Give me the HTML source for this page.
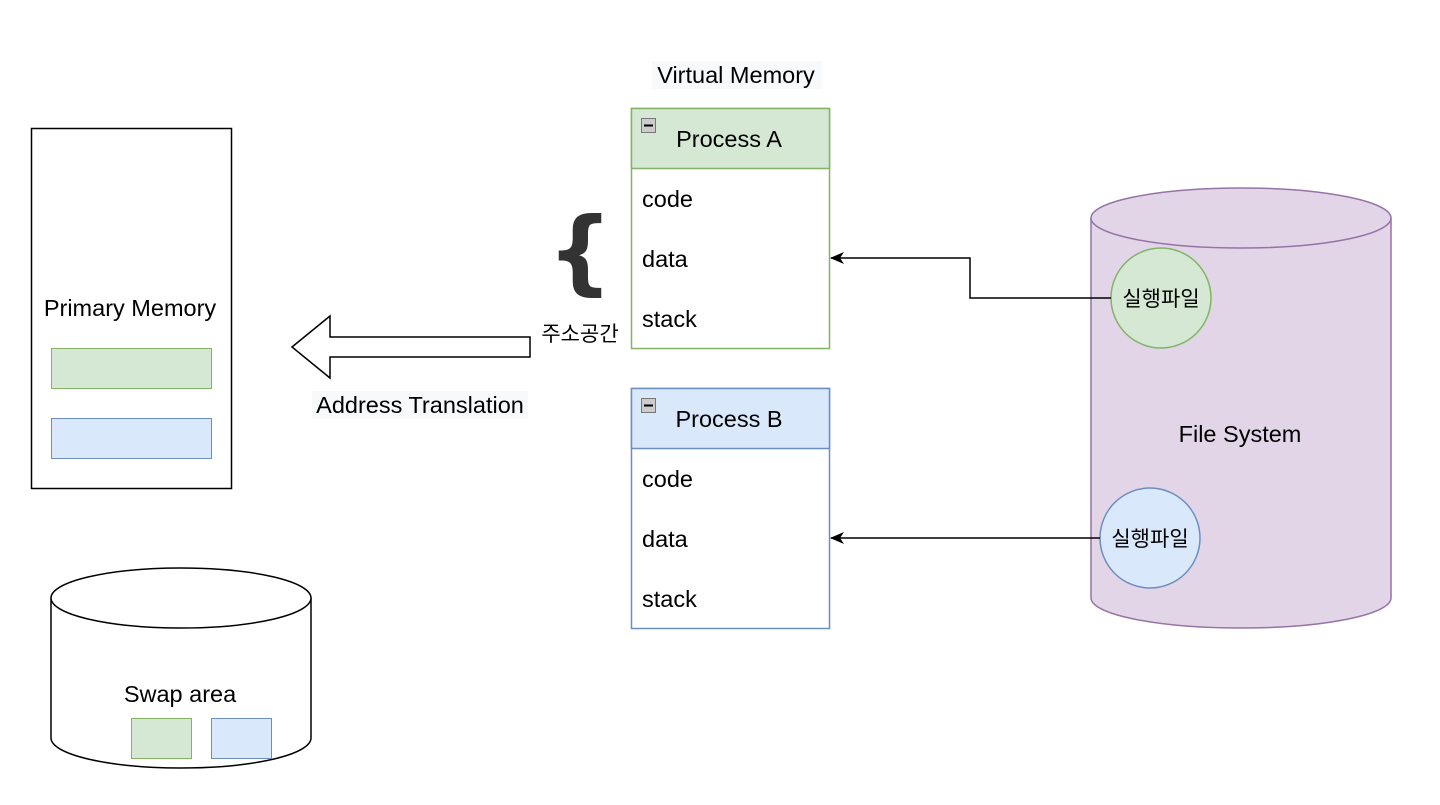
<!DOCTYPE html>
<html><head><meta charset="utf-8"><style>
html,body{margin:0;padding:0;background:#fff;}
svg text{font-family:"Liberation Sans","Noto Sans CJK KR",sans-serif;font-size:23.5px;fill:#000;}
</style></head><body>
<svg width="1440" height="800" viewBox="0 0 1440 800" xmlns="http://www.w3.org/2000/svg">
<defs><marker id="ah" markerWidth="14" markerHeight="12" refX="13" refY="6" orient="auto" markerUnits="userSpaceOnUse"><path d="M0,0 L14,6 L0,12 L4,6 Z" fill="#000"/></marker></defs>
<!-- Primary memory -->
<rect x="31.5" y="128.5" width="200" height="360" fill="#fff" stroke="#000" stroke-width="1.5"/>
<text x="130" y="316" text-anchor="middle">Primary Memory</text>
<rect x="51.5" y="348.5" width="160" height="40" fill="#d5e8d4" stroke="#82b366"/>
<rect x="51.5" y="418.5" width="160" height="40" fill="#dae8fc" stroke="#6c8ebf"/>
<!-- Swap -->
<path d="M51,598 L51,738 A130,30 0 0 0 311,738 L311,598" fill="#fff" stroke="#000" stroke-width="1.5"/>
<ellipse cx="181" cy="598" rx="130" ry="30" fill="#fff" stroke="#000" stroke-width="1.5"/>
<text x="180" y="702" text-anchor="middle">Swap area</text>
<rect x="131.5" y="718.5" width="60" height="40" fill="#d5e8d4" stroke="#82b366"/>
<rect x="211.5" y="718.5" width="60" height="40" fill="#dae8fc" stroke="#6c8ebf"/>
<!-- Big arrow -->
<path d="M292,347 L330,316 L330,337 L530,337 L530,357 L330,357 L330,378 Z" fill="#fff" stroke="#000" stroke-width="1.5"/>
<rect x="312" y="391" width="216" height="28" fill="#f8f9fa"/>
<text x="420" y="413" text-anchor="middle">Address Translation</text>
<!-- brace -->
<text x="580" y="283" text-anchor="middle" style="font-size:92px;fill:#333;font-weight:bold;font-family:'DejaVu Sans',sans-serif;">{</text>
<text x="580" y="341" text-anchor="middle" style="font-size:21px">주소공간</text>
<!-- Virtual memory label -->
<rect x="652" y="61" width="170" height="28" fill="#f8f9fa"/>
<text x="736" y="83" text-anchor="middle">Virtual Memory</text>
<!-- Process A -->
<rect x="631.5" y="108.5" width="198" height="240" fill="#fff" stroke="#82b366" stroke-width="1.5"/>
<rect x="631.5" y="108.5" width="198" height="60" fill="#d5e8d4" stroke="#82b366" stroke-width="1.5"/>
<rect x="641.5" y="118.5" width="14" height="14" fill="#ccc" stroke="#777"/>
<line x1="644" y1="125.5" x2="653" y2="125.5" stroke="#000" stroke-width="2"/>
<text x="729" y="147" text-anchor="middle">Process A</text>
<text x="642" y="207">code</text>
<text x="642" y="267">data</text>
<text x="642" y="327">stack</text>
<!-- Process B -->
<rect x="631.5" y="388.5" width="198" height="240" fill="#fff" stroke="#6c8ebf" stroke-width="1.5"/>
<rect x="631.5" y="388.5" width="198" height="60" fill="#dae8fc" stroke="#6c8ebf" stroke-width="1.5"/>
<rect x="641.5" y="398.5" width="14" height="14" fill="#ccc" stroke="#777"/>
<line x1="644" y1="405.5" x2="653" y2="405.5" stroke="#000" stroke-width="2"/>
<text x="729" y="427" text-anchor="middle">Process B</text>
<text x="642" y="487">code</text>
<text x="642" y="547">data</text>
<text x="642" y="607">stack</text>
<!-- File system -->
<path d="M1091,218 L1091,598 A150,30 0 0 0 1391,598 L1391,218" fill="#e1d5e7" stroke="#9673a6" stroke-width="1.5"/>
<ellipse cx="1241" cy="218" rx="150" ry="30" fill="#e1d5e7" stroke="#9673a6" stroke-width="1.5"/>
<text x="1240" y="442" text-anchor="middle">File System</text>
<circle cx="1161" cy="298" r="50" fill="#d5e8d4" stroke="#82b366" stroke-width="1.5"/>
<text x="1161" y="306" text-anchor="middle" style="font-size:21px">실행파일</text>
<circle cx="1150" cy="538" r="50" fill="#dae8fc" stroke="#6c8ebf" stroke-width="1.5"/>
<text x="1150" y="546" text-anchor="middle" style="font-size:21px">실행파일</text>
<!-- connectors -->
<path d="M1111,298 L970,298 L970,258 L831,258" fill="none" stroke="#000" stroke-width="1.5" marker-end="url(#ah)"/>
<path d="M1100,538 L831,538" fill="none" stroke="#000" stroke-width="1.5" marker-end="url(#ah)"/>
</svg>
</body></html>
